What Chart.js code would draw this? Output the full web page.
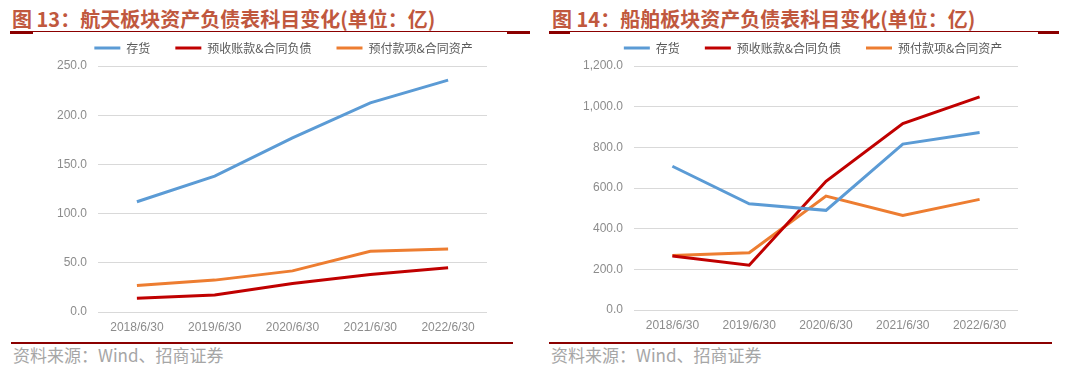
<!DOCTYPE html>
<html>
<head>
<meta charset="utf-8">
<script src="https://cdn.jsdelivr.net/npm/chart.js@4"></script>
<style>
  body { margin: 0; background: #fff; width: 1067px; height: 370px; position: relative; overflow: hidden; }
  .title { position: absolute; top: 6px; font: bold 20px "Noto Sans CJK SC", sans-serif; color: #c0583e; white-space: nowrap; line-height: 26px; }
  .rule { position: absolute; background: #8b0000; }
  .src { position: absolute; top: 344px; font: 17px "Noto Sans CJK SC", sans-serif; color: #a6a6a6; white-space: nowrap; line-height: 22px; }
  canvas { position: absolute; }
  .box { position: absolute; }
</style>
</head>
<body>
<div class="title" style="left:12px">图 13：航天板块资产负债表科目变化(单位：亿)</div>
<div class="title" style="left:552px">图 14：船舶板块资产负债表科目变化(单位：亿)</div>

<div class="rule" style="left:10px;top:31px;width:520px;height:1px"></div>
<div class="rule" style="left:10px;top:31px;width:23px;height:3px"></div>
<div class="rule" style="left:507px;top:31px;width:23px;height:3px"></div>
<div class="rule" style="left:549px;top:31px;width:510px;height:1px"></div>
<div class="rule" style="left:549px;top:31px;width:21px;height:3px"></div>
<div class="rule" style="left:1038px;top:31px;width:21px;height:3px"></div>

<div class="box" style="left:0;top:17px;width:540px;height:319px"><canvas id="c1"></canvas></div>
<div class="box" style="left:540px;top:17px;width:527px;height:319px"><canvas id="c2"></canvas></div>

<div class="rule" style="left:11px;top:342px;width:502px;height:2px"></div>
<div class="rule" style="left:549px;top:342px;width:503px;height:2px"></div>
<div class="src" style="left:13px">资料来源：Wind、招商证券</div>
<div class="src" style="left:551px">资料来源：Wind、招商证券</div>

<script>
const years = ["2018/6/30", "2019/6/30", "2020/6/30", "2021/6/30", "2022/6/30"]
const seriesNames = ["存货", "预收账款&合同负债", "预付款项&合同资产"]
const colors = ["#5b9bd5", "#c00000", "#ed7d31"]

// 航天板块
const spaceInventory = [112, 138, 177, 212.5, 235.7]
const spaceAdvanceRecv = [14, 17.2, 29, 38.2, 45]
const spacePrepaid = [27, 32.4, 41.8, 61.8, 64]

// 船舶板块
const shipInventory = [707, 522, 490, 816, 873]
const shipAdvanceRecv = [266, 220, 633, 917, 1048]
const shipPrepaid = [268, 282, 560, 465, 544]

const tickFont = { family: "Liberation Sans, Arial, sans-serif", size: 12 }

function makeChart(id, seriesData, yMax, yStep, yFmt, yWidth, padR, xHeight, legendShift) {
  const ctx = document.getElementById(id).getContext("2d")
  return new Chart(ctx, {
    type: "line",
    data: {
      labels: years,
      datasets: seriesData.map((d, i) => ({
        label: seriesNames[i],
        data: d,
        borderColor: colors[i],
        backgroundColor: colors[i],
        borderWidth: 3,
        pointRadius: 0,
        tension: 0
      }))
    },
    options: {
      responsive: true,
      maintainAspectRatio: false,
      animation: false,
      layout: { padding: { left: 0, right: padR, top: 0, bottom: 0 } },
      plugins: {
        legend: {
          display: true,
          position: "top",
          labels: {
            usePointStyle: true,
            pointStyle: "line",
            pointStyleWidth: 26,
            padding: 25,
            color: "#595959",
            font: { family: "Noto Sans CJK SC, sans-serif", size: 12 }
          }
        },
        tooltip: { enabled: false }
      },
      scales: {
        x: {
          offset: true,
          grid: { display: false, drawTicks: false },
          border: { display: false },
          ticks: { color: "#8c8c8c", font: tickFont, padding: 8, maxRotation: 0 },
          afterFit: s => { s.height = xHeight }
        },
        y: {
          min: 0,
          max: yMax,
          grid: { color: "#d9d9d9", lineWidth: 1, drawTicks: false },
          border: { display: false },
          ticks: { stepSize: yStep, color: "#8c8c8c", font: tickFont, padding: 11, callback: yFmt },
          afterFit: s => { s.width = yWidth }
        }
      }
    },
    plugins: [{
      id: "legendShift",
      beforeInit(chart) {
        // a little more room between legend and plot
        const fit = chart.legend.fit
        chart.legend.fit = function () {
          fit.call(this)
          this.height += 2
        }
      },
      afterLayout(chart) {
        chart.legend.left += legendShift
        chart.legend.right += legendShift
      }
    }]
  })
}

makeChart("c1", [spaceInventory, spaceAdvanceRecv, spacePrepaid], 250, 50,
  v => v.toFixed(1), 98, 53, 24, 40)

makeChart("c2", [shipInventory, shipAdvanceRecv, shipPrepaid], 1200, 200,
  v => v.toLocaleString("en-US", { minimumFractionDigits: 1, maximumFractionDigits: 1 }), 94, 49, 26, 34)
</script>
</body>
</html>
